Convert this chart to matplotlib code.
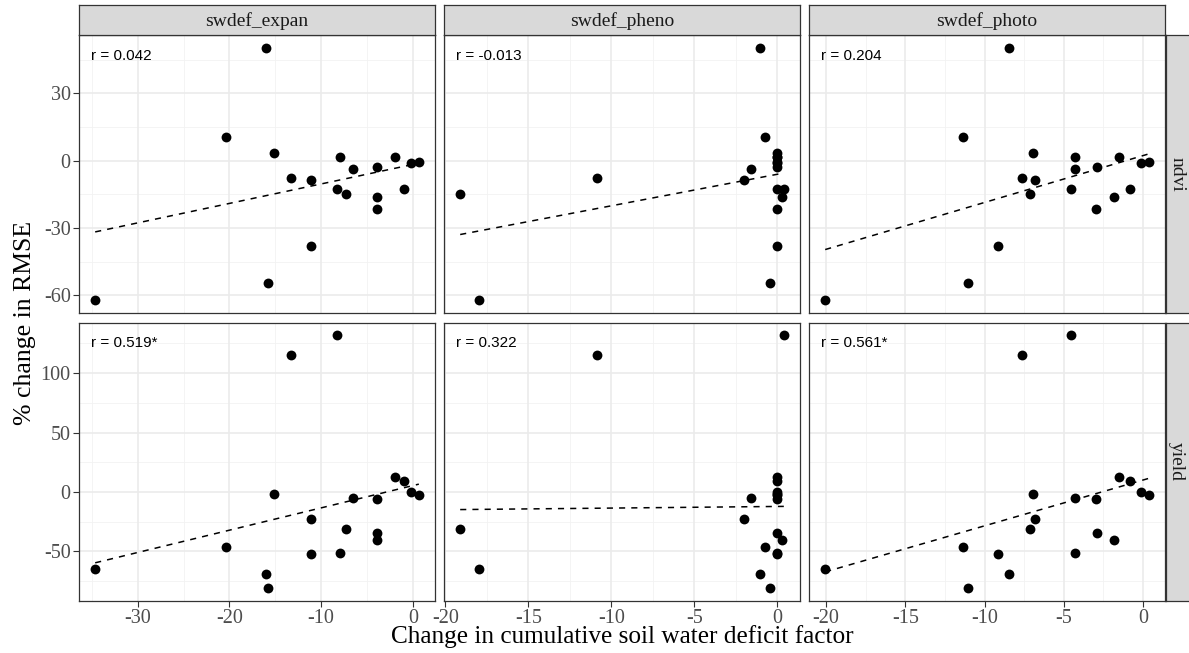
import numpy as np
import matplotlib
matplotlib.use("Agg")
import matplotlib.pyplot as plt

plt.rcParams["axes.unicode_minus"] = False

# change in cumulative soil water deficit factor, one value per run
swdef_expan = [-16.05, -20.35, -15.2, -13.3, -11.06, -11.06, -15.8, -34.65, -7.98, -8.28,
               -7.27, -6.57, -3.94, -3.87, -3.94, -1.98, -0.93, -0.2, 0.65]
swdef_pheno = [-1.06, -0.76, 0.0, -10.84, -2.0, 0.0, -0.46, -18.0, 0.0, 0.4,
               -19.11, -1.56, 0.0, 0.28, 0.0, 0.0, 0.0, 0.0, 0.0]
swdef_photo = [-8.46, -11.36, -6.95, -7.64, -6.83, -9.12, -11.05, -20.05, -4.3, -4.55,
               -7.12, -4.3, -2.88, -1.82, -3.0, -1.5, -0.85, -0.13, 0.36]

# % change in RMSE
ndvi = [50.4, 10.5, 3.5, -7.7, -8.7, -38.0, -54.4, -62.2, 1.5, -12.6,
        -14.9, -3.7, -2.8, -16.1, -21.4, 1.5, -12.6, -1.0, -0.4]
yld = [-69.0, -46.3, -1.4, 115.6, -22.9, -52.2, -80.7, -65.0, -51.6, 132.0,
       -31.5, -4.7, -34.9, -40.2, -5.9, 12.6, 9.5, 0.0, -2.2]

cols = ["swdef_expan", "swdef_pheno", "swdef_photo"]
rows = ["ndvi", "yield"]
xdata = {"swdef_expan": swdef_expan, "swdef_pheno": swdef_pheno, "swdef_photo": swdef_photo}
ydata = {"ndvi": ndvi, "yield": yld}
r_labels = {("ndvi", "swdef_expan"): "r = 0.042", ("ndvi", "swdef_pheno"): "r = -0.013",
            ("ndvi", "swdef_photo"): "r = 0.204", ("yield", "swdef_expan"): "r = 0.519*",
            ("yield", "swdef_pheno"): "r = 0.322", ("yield", "swdef_photo"): "r = 0.561*"}

xticks = {"swdef_expan": [-30, -20, -10, 0], "swdef_pheno": [-20, -15, -10, -5, 0],
          "swdef_photo": [-20, -15, -10, -5, 0]}
yticks = {"ndvi": [-60, -30, 0, 30], "yield": [-50, 0, 50, 100]}

W, H = 1189, 653
fig = plt.figure(figsize=(W / 100, H / 100), dpi=100)

serif = "Liberation Serif"
edge = "#333333"
lefts = [79, 444, 809]
pw = 356
tops = [35, 322.5]
ph = 278


def rect(x0, y0, w, h):
    return [x0 / W, 1 - (y0 + h) / H, w / W, h / H]


def expand(v):
    lo, hi = min(v), max(v)
    d = (hi - lo) * 0.05
    return lo - d, hi + d


for i, rname in enumerate(rows):
    for j, cname in enumerate(cols):
        ax = fig.add_axes(rect(lefts[j], tops[i], pw, ph))
        x = np.array(xdata[cname])
        y = np.array(ydata[rname])
        ax.set_xlim(expand(x))
        ax.set_ylim(expand(y))

        # grid: major + minor like theme_bw
        xt = xticks[cname]
        yt = yticks[rname]
        xs = xt[1] - xt[0]
        ys = yt[1] - yt[0]
        xminor = np.arange(xt[0] - xs * 1.5, xt[-1] + xs, xs)
        yminor = np.arange(yt[0] - ys * 1.5, yt[-1] + ys * 1.5, ys)
        for v in xminor:
            ax.axvline(v, color="#F2F2F2", lw=0.6, zorder=0)
        for v in yminor:
            ax.axhline(v, color="#F2F2F2", lw=0.6, zorder=0)
        for v in xt:
            ax.axvline(v, color="#EBEBEB", lw=1.2, zorder=0)
        for v in yt:
            ax.axhline(v, color="#EBEBEB", lw=1.2, zorder=0)

        ax.scatter(x, y, s=50, color="black", zorder=3, linewidths=0)
        k, b = np.polyfit(x, y, 1)
        lx = np.array([x.min(), x.max()])
        ax.plot(lx, k * lx + b, color="black", lw=1.1, dashes=(4, 4), zorder=2)

        ax.text(0.035, 0.925, r_labels[(rname, cname)], transform=ax.transAxes,
                family="Liberation Sans", fontsize=11, color="black", va="center", ha="left")

        ax.set_xticks(xt)
        ax.set_yticks(yt)
        ax.tick_params(length=4, width=0.8, color=edge, labelcolor="#4D4D4D",
                       labelsize=14.5, pad=2)
        if i == 0:
            ax.tick_params(axis="x", labelbottom=False, length=0)
        if j > 0:
            ax.tick_params(axis="y", labelleft=False, length=0)
        for lab in ax.get_xticklabels() + ax.get_yticklabels():
            lab.set_family(serif)
        for s in ax.spines.values():
            s.set_color(edge)
            s.set_linewidth(0.9)

        # strips
        if i == 0:
            sax = fig.add_axes(rect(lefts[j], 5, pw, 30))
            sax.set_facecolor("#D9D9D9")
            sax.set_xticks([])
            sax.set_yticks([])
            for s in sax.spines.values():
                s.set_color(edge)
                s.set_linewidth(0.9)
            sax.text(0.5, 0.48, cname, transform=sax.transAxes, ha="center", va="center",
                     family=serif, fontsize=14, color="#1A1A1A")
        if j == 2:
            sax = fig.add_axes(rect(1166, tops[i], 24, ph))
            sax.set_facecolor("#D9D9D9")
            sax.set_xticks([])
            sax.set_yticks([])
            for s in sax.spines.values():
                s.set_color(edge)
                s.set_linewidth(0.9)
            sax.text(0.45, 0.5, rname, transform=sax.transAxes, ha="center", va="center",
                     rotation=-90, family=serif, fontsize=14, color="#1A1A1A")

fig.text(622 / W, 1 - 637 / H, "Change in cumulative soil water deficit factor",
         ha="center", va="center", family=serif, fontsize=18.2)
fig.text(25 / W, 1 - 323 / H, "% change in RMSE", ha="center", va="center",
         rotation=90, family=serif, fontsize=18.5)

fig.savefig("out.png", dpi=100)
